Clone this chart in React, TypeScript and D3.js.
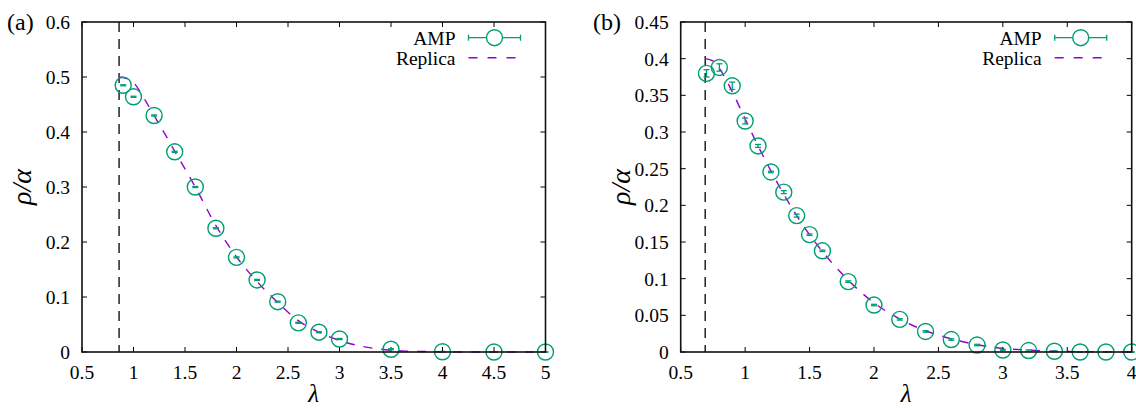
import React from "react";
import * as d3 from "d3";

// ---------- Data ----------
const panelLabels = ["(a)", "(b)"];
const legendLabels = ["AMP", "Replica"];
const xLabel = "λ";
const yLabel = "ρ/α";

// Panel (a)
const xTicksA = [0.5, 1, 1.5, 2, 2.5, 3, 3.5, 4, 4.5, 5];
const yTicksA = [0, 0.1, 0.2, 0.3, 0.4, 0.5, 0.6];
const criticalA = 0.86;
const lambdaA = [0.9, 1.0, 1.2, 1.4, 1.6, 1.8, 2.0, 2.2, 2.4, 2.6, 2.8, 3.0, 3.5, 4.0, 4.5, 5.0];
const ampA = [0.485, 0.464, 0.43, 0.364, 0.3, 0.225, 0.172, 0.131, 0.0915, 0.053, 0.036, 0.0236, 0.005, 0.0005, 0, 0];
const errA = [0.001, 0.001, 0.001, 0.001, 0.001, 0.001, 0.001, 0.001, 0.001, 0.001, 0.001, 0.001, 0.001, 0.0005, 0, 0];
const replicaLambdaA = [0.86, 0.9, 1.0, 1.1, 1.2, 1.3, 1.4, 1.5, 1.6, 1.8, 2.0, 2.2, 2.4, 2.6, 2.8, 3.0, 3.2, 3.4, 3.6, 3.8, 4.0, 4.5, 5.0];
const replicaA = [0.5, 0.499, 0.49, 0.462, 0.43, 0.398, 0.365, 0.333, 0.3, 0.23, 0.173, 0.128, 0.09, 0.057, 0.036, 0.021, 0.011, 0.005, 0.002, 0.001, 0.0003, 0, 0];

// Panel (b)
const xTicksB = [0.5, 1, 1.5, 2, 2.5, 3, 3.5, 4];
const yTicksB = [0, 0.05, 0.1, 0.15, 0.2, 0.25, 0.3, 0.35, 0.4, 0.45];
const criticalB = 0.69;
const lambdaB = [0.7, 0.8, 0.9, 1.0, 1.1, 1.2, 1.3, 1.4, 1.5, 1.6, 1.8, 2.0, 2.2, 2.4, 2.6, 2.8, 3.0, 3.2, 3.4, 3.6, 3.8, 4.0];
const ampB = [0.38, 0.388, 0.363, 0.315, 0.281, 0.2455, 0.218, 0.186, 0.16, 0.138, 0.096, 0.064, 0.0445, 0.028, 0.017, 0.0095, 0.0027, 0.002, 0.001, 0, 0, 0];
const errB = [0.005, 0.005, 0.005, 0.004, 0.002, 0.001, 0.002, 0.002, 0.001, 0.001, 0.001, 0.001, 0.001, 0.001, 0.001, 0.001, 0.001, 0.001, 0.0005, 0, 0, 0];
const replicaLambdaB = [0.69, 0.75, 0.8, 0.85, 0.9, 1.0, 1.1, 1.2, 1.3, 1.4, 1.5, 1.6, 1.8, 2.0, 2.2, 2.4, 2.6, 2.8, 3.0, 3.2, 3.4, 3.6, 3.8, 4.0];
const replicaB = [0.4, 0.397, 0.387, 0.372, 0.355, 0.318, 0.281, 0.247, 0.215, 0.186, 0.16, 0.137, 0.098, 0.067, 0.045, 0.029, 0.018, 0.01, 0.005, 0.0025, 0.001, 0.0005, 0.0002, 0];

// ---------- Styles ----------
const GREEN = "#009E73";
const PURPLE = "#9400D3";
const FONT = '"Liberation Serif"';
const TICK_FS = 19.5;
const YLABEL_FS = 28;
const XLABEL_FS = 25;

type PanelProps = {
  label: string;
  labelX: number;
  left: number;
  right: number;
  top: number;
  bottom: number;
  xDomain: [number, number];
  yDomain: [number, number];
  xTicks: number[];
  yTicks: number[];
  critical: number;
  lam: number[];
  amp: number[];
  err: number[];
  repL: number[];
  rep: number[];
};

function fmt(v: number) {
  return String(v);
}

const txt = (size: number, italic = false): React.CSSProperties => ({
  fontFamily: FONT,
  fontSize: size,
  fontStyle: italic ? "italic" : "normal",
});

function Panel(p: PanelProps) {
  const x = d3.scaleLinear().domain(p.xDomain).range([p.left, p.right]);
  const y = d3.scaleLinear().domain(p.yDomain).range([p.bottom, p.top]);
  const line = d3
    .line<number>()
    .x((_, i) => x(p.repL[i]))
    .y((d) => y(d))
    .curve(d3.curveMonotoneX);
  const tickLen = 5;
  const cap = 3;
  const r = 8;
  const legX1 = p.right - 77;
  const legX2 = p.right - 25;
  const legMid = (legX1 + legX2) / 2;
  const legY1 = p.top + 15.7;
  const legY2 = p.top + 35.7;
  const cx = (p.left + p.right) / 2;
  const cy = (p.top + p.bottom) / 2;

  return (
    <g>
      <line
        x1={x(p.critical)}
        x2={x(p.critical)}
        y1={p.top}
        y2={p.bottom}
        stroke="#000"
        strokeWidth={1.3}
        strokeDasharray="10,7"
      />
      <path
        d={line(p.rep) || ""}
        fill="none"
        stroke={PURPLE}
        strokeWidth={1.4}
        strokeDasharray="9,9"
      />
      {p.xTicks.map((t) => (
        <g key={"xt" + t}>
          <line x1={x(t)} x2={x(t)} y1={p.bottom} y2={p.bottom - tickLen} stroke="#000" strokeWidth={1} />
          <line x1={x(t)} x2={x(t)} y1={p.top} y2={p.top + tickLen} stroke="#000" strokeWidth={1} />
          <text x={x(t)} y={p.bottom + 27} textAnchor="middle" style={txt(TICK_FS)} fill="#000">
            {fmt(t)}
          </text>
        </g>
      ))}
      {p.yTicks.map((t) => (
        <g key={"yt" + t}>
          <line x1={p.left} x2={p.left + tickLen} y1={y(t)} y2={y(t)} stroke="#000" strokeWidth={1} />
          <line x1={p.right} x2={p.right - tickLen} y1={y(t)} y2={y(t)} stroke="#000" strokeWidth={1} />
          <text x={p.left - 12} y={y(t) + 7} textAnchor="end" style={txt(TICK_FS)} fill="#000">
            {fmt(t)}
          </text>
        </g>
      ))}
      {p.lam.map((l, i) => (
        <g key={"pt" + i}>
          <line x1={x(l)} x2={x(l)} y1={y(p.amp[i] - p.err[i])} y2={y(p.amp[i] + p.err[i])} stroke={GREEN} strokeWidth={1.3} />
          <line x1={x(l) - cap} x2={x(l) + cap} y1={y(p.amp[i] - p.err[i])} y2={y(p.amp[i] - p.err[i])} stroke={GREEN} strokeWidth={1.3} />
          <line x1={x(l) - cap} x2={x(l) + cap} y1={y(p.amp[i] + p.err[i])} y2={y(p.amp[i] + p.err[i])} stroke={GREEN} strokeWidth={1.3} />
          <circle cx={x(l)} cy={y(p.amp[i])} r={r} fill="none" stroke={GREEN} strokeWidth={1.4} />
        </g>
      ))}
      <rect
        x={p.left}
        y={p.top}
        width={p.right - p.left}
        height={p.bottom - p.top}
        fill="none"
        stroke="#111"
        strokeWidth={1.6}
      />
      <text x={legX1 - 13} y={legY1 + 7} textAnchor="end" style={txt(TICK_FS)} fill="#000">
        {legendLabels[0]}
      </text>
      <line x1={legX1} x2={legX2} y1={legY1} y2={legY1} stroke={GREEN} strokeWidth={1.3} />
      <line x1={legX1} x2={legX1} y1={legY1 - 3} y2={legY1 + 3} stroke={GREEN} strokeWidth={1.3} />
      <line x1={legX2} x2={legX2} y1={legY1 - 3} y2={legY1 + 3} stroke={GREEN} strokeWidth={1.3} />
      <circle cx={legMid} cy={legY1} r={r} fill="#fff" stroke={GREEN} strokeWidth={1.4} />
      <text x={legX1 - 13} y={legY2 + 7} textAnchor="end" style={txt(TICK_FS)} fill="#000">
        {legendLabels[1]}
      </text>
      <line x1={legX1} x2={legX2} y1={legY2} y2={legY2} stroke={PURPLE} strokeWidth={1.4} strokeDasharray="9,10" />
      <text x={cx} y={p.bottom + 50} textAnchor="middle" style={txt(XLABEL_FS, true)} fill="#000">
        {xLabel}
      </text>
      <text
        transform={`translate(${p.left - 51},${cy}) rotate(-90)`}
        textAnchor="middle"
        style={txt(YLABEL_FS, true)}
        fill="#000"
      >
        {yLabel}
      </text>
      <text x={p.labelX} y={p.top + 8} style={txt(24)} fill="#000">
        {p.label}
      </text>
    </g>
  );
}

export default function App() {
  return (
    <svg
      width={1136}
      height={408}
      style={{ position: "absolute", left: 0, top: 0, background: "#fff" }}
    >
      <rect x={0} y={0} width={1136} height={408} fill="#fff" />
      <Panel
        label={panelLabels[0]}
        labelX={7}
        left={82}
        right={545.5}
        top={22}
        bottom={352}
        xDomain={[0.5, 5]}
        yDomain={[0, 0.6]}
        xTicks={xTicksA}
        yTicks={yTicksA}
        critical={criticalA}
        lam={lambdaA}
        amp={ampA}
        err={errA}
        repL={replicaLambdaA}
        rep={replicaA}
      />
      <Panel
        label={panelLabels[1]}
        labelX={593}
        left={680.7}
        right={1131.7}
        top={22}
        bottom={352}
        xDomain={[0.5, 4]}
        yDomain={[0, 0.45]}
        xTicks={xTicksB}
        yTicks={yTicksB}
        critical={criticalB}
        lam={lambdaB}
        amp={ampB}
        err={errB}
        repL={replicaLambdaB}
        rep={replicaB}
      />
    </svg>
  );
}
